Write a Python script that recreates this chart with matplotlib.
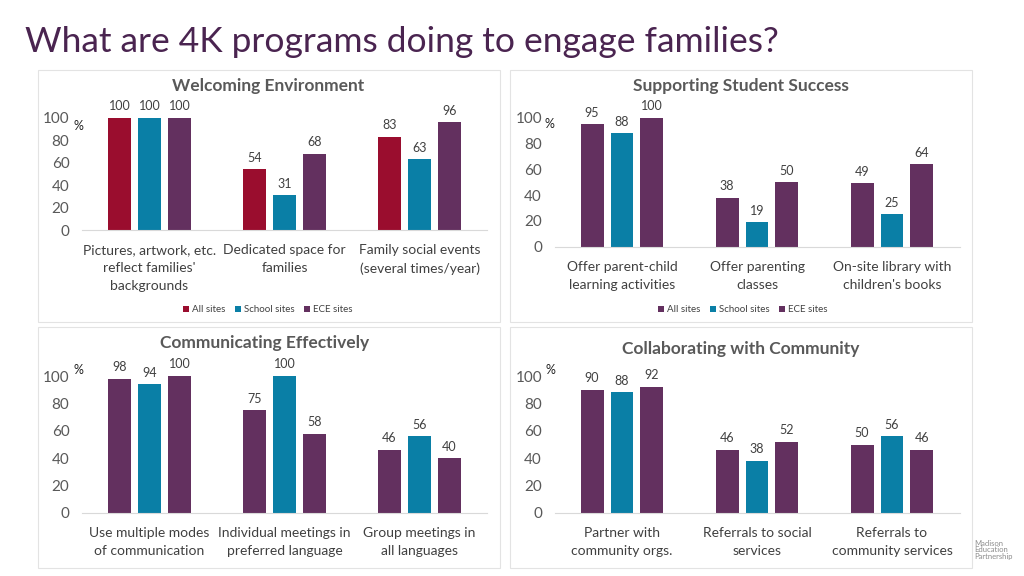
import numpy as np
import matplotlib
matplotlib.use("Agg")
import matplotlib.pyplot as plt
from matplotlib.patches import Rectangle, Patch

plt.rcParams['font.family'] = ['Lato', 'DejaVu Sans']

# ---------------- data ----------------
series_names = ["All sites", "School sites", "ECE sites"]

welcome_cats = ["Pictures, artwork, etc.\nreflect families'\nbackgrounds",
                "Dedicated space for\nfamilies",
                "Family social events\n(several times/year)"]
welcome_all = [100, 54, 83]
welcome_school = [100, 31, 63]
welcome_ece = [100, 68, 96]

support_cats = ["Offer parent-child\nlearning activities",
                "Offer parenting\nclasses",
                "On-site library with\nchildren's books"]
support_all = [95, 38, 49]
support_school = [88, 19, 25]
support_ece = [100, 50, 64]

comm_cats = ["Use multiple modes\nof communication",
             "Individual meetings in\npreferred language",
             "Group meetings in\nall languages"]
comm_all = [98, 75, 46]
comm_school = [94, 100, 56]
comm_ece = [100, 58, 40]

collab_cats = ["Partner with\ncommunity orgs.",
               "Referrals to social\nservices",
               "Referrals to\ncommunity services"]
collab_all = [90, 46, 50]
collab_school = [88, 38, 56]
collab_ece = [92, 52, 46]

RED = "#9a0d2e"
BLUE = "#0a7fa6"
PURPLE = "#63305f"
W, H = 1024, 576

fig = plt.figure(figsize=(W / 100, H / 100), dpi=100)
fig.patch.set_facecolor("white")

fig.text(25 / W, 1 - 42 / H, "What are 4K programs doing to engage families?",
         fontsize=25.5, color="#4a2450", va="center", ha="left")

# panel frames
for (x0, y0, x1, y1) in [(38, 70, 500, 322), (510, 70, 972, 322),
                         (38, 327, 500, 568), (510, 327, 972, 568)]:
    fig.patches.append(Rectangle((x0 / W, 1 - y1 / H), (x1 - x0) / W, (y1 - y0) / H,
                                 transform=fig.transFigure, facecolor="none",
                                 edgecolor="#e3e3e3", linewidth=0.8))


def panel(x0, x1, ytop, ybot, title, title_xy, pct_xy, cats, vals, colors, legend_xy=None):
    ax = fig.add_axes([x0 / W, 1 - ybot / H, (x1 - x0) / W, (ybot - ytop) / H])
    x = np.arange(len(cats))
    step = 0.222
    for i, (v, c) in enumerate(zip(vals, colors)):
        bars = ax.bar(x + (i - 1) * step, v, width=0.17, color=c, label=series_names[i])
        for b, val in zip(bars, v):
            ax.annotate(str(val), (b.get_x() + b.get_width() / 2, val),
                        xytext=(0, 4), textcoords="offset points", ha="center",
                        va="bottom", fontsize=9, color="#404040", annotation_clip=False)
    ax.set_xlim(-0.5, 2.5)
    ax.set_ylim(0, 100)
    ax.set_yticks([0, 20, 40, 60, 80, 100])
    ax.set_xticks(x)
    ax.set_xticklabels(cats, fontsize=10, color="#404040", linespacing=1.6)
    ax.tick_params(axis="y", length=0, pad=9, labelsize=11, labelcolor="#595959")
    ax.tick_params(axis="x", length=0, pad=10)
    for s in ["top", "right", "left"]:
        ax.spines[s].set_visible(False)
    ax.spines["bottom"].set_color("#d9d9d9")
    ax.patch.set_alpha(0)
    fig.text(title_xy[0] / W, 1 - title_xy[1] / H, title, fontsize=12.5, fontweight="bold",
             color="#595959", ha="center", va="center")
    fig.text(pct_xy[0] / W, 1 - pct_xy[1] / H, "%", fontsize=9, color="#222222",
             ha="center", va="center")
    if legend_xy is not None:
        handles = [Patch(facecolor=c) for c in colors]
        fig.legend(handles, series_names, loc="center",
                   bbox_to_anchor=(legend_xy[0] / W, 1 - legend_xy[1] / H),
                   ncol=3, frameon=False, fontsize=7, handlelength=0.6, handleheight=0.6,
                   handletextpad=0.3, columnspacing=1.0, labelcolor="#404040")
    return ax


panel(82, 487, 117.7, 230, "Welcoming Environment", (268, 86), (78, 126),
      welcome_cats, [welcome_all, welcome_school, welcome_ece], [RED, BLUE, PURPLE],
      legend_xy=(268, 310))
panel(554.5, 959.5, 117.7, 246.7, "Supporting Student Success", (741, 86), (549, 124),
      support_cats, [support_all, support_school, support_ece], [PURPLE, BLUE, PURPLE],
      legend_xy=(743, 310))
panel(82, 487, 376, 513, "Communicating Effectively", (265, 343), (78, 370),
      comm_cats, [comm_all, comm_school, comm_ece], [PURPLE, BLUE, PURPLE])
panel(554.5, 959.5, 376, 513, "Collaborating with Community", (741, 349), (550, 370),
      collab_cats, [collab_all, collab_school, collab_ece], [PURPLE, BLUE, PURPLE])

fig.text(974 / W, 1 - 550 / H, "Madison\nEducation\nPartnership", fontsize=5.5,
         color="#8c8c8c", ha="left", va="center", linespacing=0.9)

plt.savefig("out.png", dpi=100)
